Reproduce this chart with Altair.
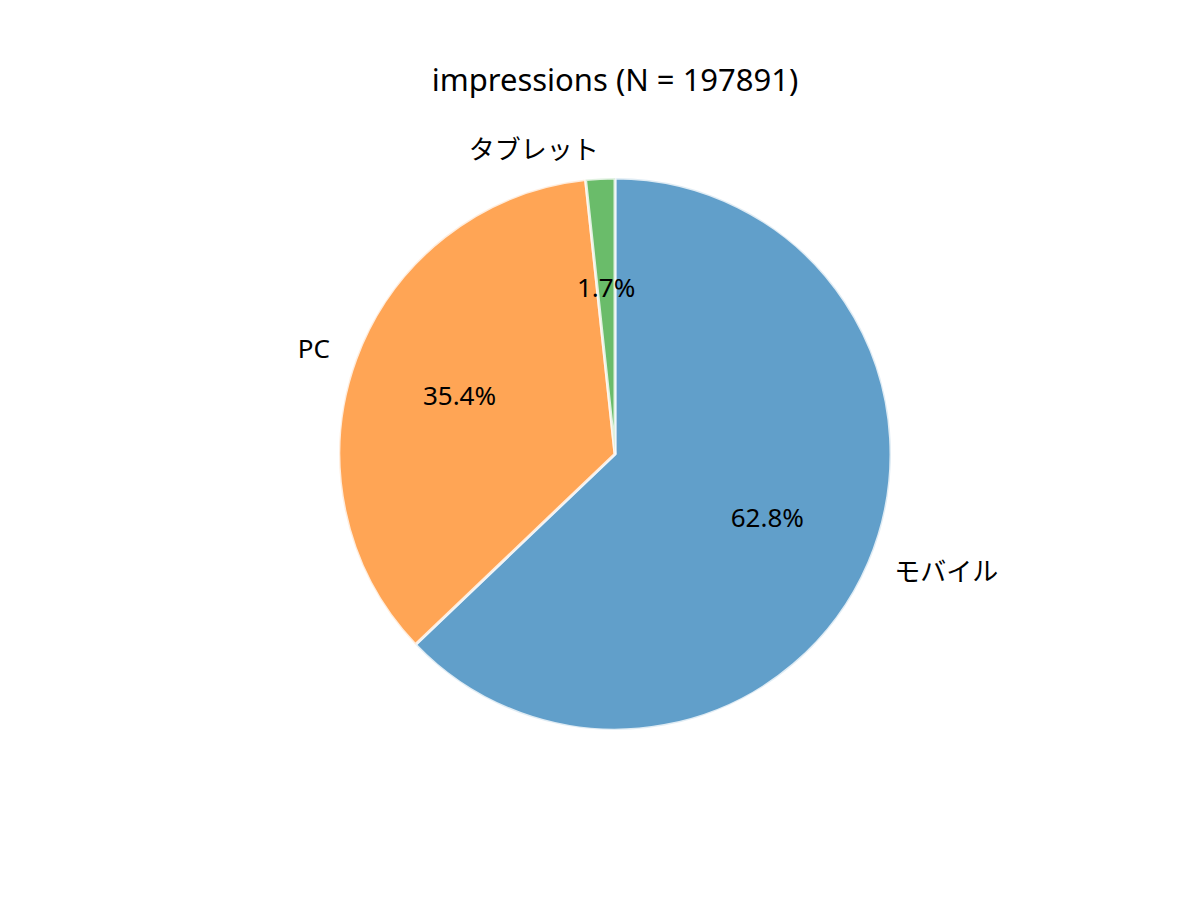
import altair as alt
import pandas as pd

categories = ["モバイル", "PC", "タブレット"]
shares = [62.8, 35.4, 1.7]
pct_labels = ["62.8%", "35.4%", "1.7%"]
label_align = ["left", "right", "right"]
colors = ["#1f77b4", "#ff7f0e", "#2ca02c"]

df = pd.DataFrame({
    "cat": categories,
    "share": shares,
    "pct": pct_labels,
    "align": label_align,
    "order": [0, 1, 2],
})

FONT = "Noto Sans, Noto Sans CJK JP"
CX, CY = 577, 346
R = 276
FS = 26

base = alt.Chart(df).encode(
    theta=alt.Theta("share:Q", stack=True),
    order=alt.Order("order:Q"),
)

pie = base.mark_arc(
    outerRadius=R, stroke="white", strokeWidth=3, opacity=0.7, strokeOpacity=0.8
).encode(
    color=alt.Color("cat:N", scale=alt.Scale(domain=categories, range=colors), legend=None),
    x=alt.value(CX), y=alt.value(CY),
)

pct = base.mark_text(radius=R * 0.6, font=FONT, fontSize=FS, color="black", align="center", baseline="middle").encode(
    text="pct:N", x=alt.value(CX), y=alt.value(CY),
)

lab_left = base.mark_text(radius=R * 1.1, font=FONT, fontSize=FS, color="black", align="left", baseline="middle").encode(
    text=alt.condition(alt.datum.align == "left", "cat:N", alt.value("")),
    x=alt.value(CX), y=alt.value(CY),
)
lab_right = base.mark_text(radius=R * 1.1, font=FONT, fontSize=FS, color="black", align="right", baseline="middle").encode(
    text=alt.condition(alt.datum.align == "right", "cat:N", alt.value("")),
    x=alt.value(CX), y=alt.value(CY),
)

chart = alt.layer(pie, pct, lab_left, lab_right).properties(
    width=1154, height=692,
    padding={"left": 30, "top": 100, "right": 0, "bottom": 0},
    autosize=alt.AutoSizeParams(type="none"),
    title=alt.TitleParams("impressions (N = 197891)", font=FONT, fontSize=31,
                          fontWeight="normal", anchor="middle", offset=10, color="black"),
).configure_view(stroke=None)

chart.save("out.html", embed_options={"renderer": "svg", "actions": False})
